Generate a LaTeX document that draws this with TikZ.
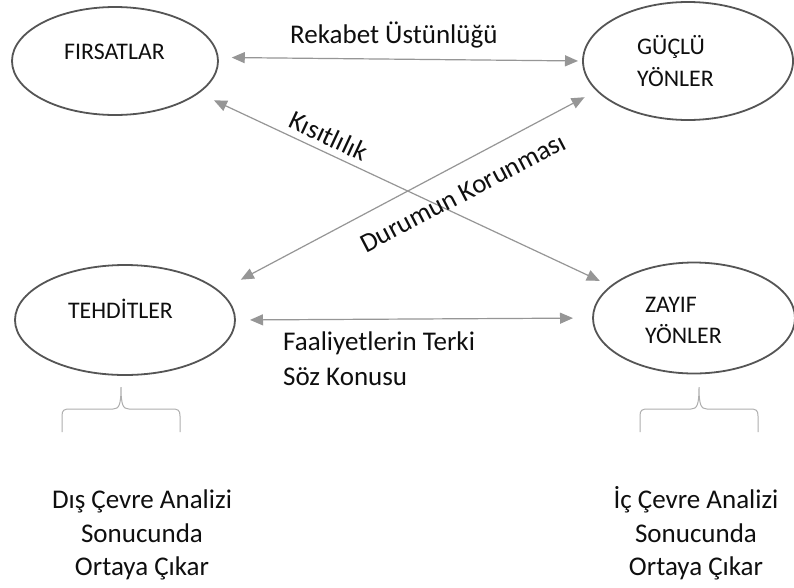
\documentclass[tikz,border=0pt]{standalone}
\usepackage{fontspec}
\setmainfont{Carlito}
\usetikzlibrary{shapes.geometric,arrows.meta}
\definecolor{ellcol}{RGB}{85,85,85}
\definecolor{arrcol}{RGB}{150,150,150}
\definecolor{brcol}{RGB}{175,175,175}
\definecolor{txtcol}{RGB}{15,15,15}
\tikzset{
  oval/.style={ellipse, draw=ellcol, line width=1.8pt, inner sep=0pt, outer sep=0pt},
  ovaltext/.style={inner sep=0pt, text=txtcol, font=\fontsize{23.8}{28}\selectfont},
  lbl/.style={inner sep=0pt, text=txtcol, font=\fontsize{27}{32}\selectfont},
  bottomtext/.style={inner sep=0pt, text=txtcol, anchor=base, font=\fontsize{27}{33}\selectfont},
  conn/.style={draw=arrcol, line width=1.2pt, {Triangle[length=13pt,width=11pt,fill=arrcol]}-{Triangle[length=13pt,width=11pt,fill=arrcol]}},
  bracestyle/.style={draw=brcol, line width=1pt}
}
\begin{document}
\begin{tikzpicture}[x=1pt,y=-1pt]
\useasboundingbox (0,0) rectangle (794,587);
\fill[white] (0,0) rectangle (794,587);
% ellipses
\node[oval, minimum width=206pt, minimum height=108pt] (fir) at (115,61) {};
\node[oval, minimum width=210pt, minimum height=118pt] (guc) at (688,61) {};
\node[oval, minimum width=220pt, minimum height=110pt] (teh) at (125,320) {};
\node[oval, minimum width=202pt, minimum height=111pt] (zay) at (694,318) {};
% ellipse texts
\node[ovaltext, anchor=base] (firT) at (114.5,59) {FIRSATLAR};
\node[ovaltext, anchor=base west] (gucT1) at (637,54.5) {GÜÇLÜ};
\node[ovaltext, anchor=base west] (gucT2) at (637,86.8) {YÖNLER};
\node[ovaltext, anchor=base] (tehT) at (120.5,318.8) {TEHDİTLER};
\node[ovaltext, anchor=base west] (zayT1) at (645,312.8) {ZAYIF};
\node[ovaltext, anchor=base west] (zayT2) at (645,343.8) {YÖNLER};
% connectors
\draw[conn, shorten <=14pt, shorten >=5pt] (fir.2) -- (guc.west);
\draw[conn, shorten <=17.5pt, shorten >=12.6pt] (fir.-21.7) -- (zay.159);
\draw[conn, shorten <=24.9pt, shorten >=14.2pt] (teh.17.5) -- (guc.198);
\draw[conn, shorten <=15pt, shorten >=20pt] (teh.east) -- (zay.west);
% connector labels
\node[lbl, anchor=base west] (rek) at (290,43.5) {Rekabet Üstünlüğü};
\node[lbl, rotate=-25] (kis) at (329,136) {Kısıtlılık};
\node[lbl, rotate=27.5] (dur) at (463,193) {Durumun Korunması};
\node[lbl, anchor=base west] (faa1) at (283,350) {Faaliyetlerin Terki};
\node[lbl, anchor=base west] (faa2) at (283,385) {Söz Konusu};
% braces
\draw[bracestyle] (62,432) -- (62,416) .. controls (62,410) and (64,409) .. (70,409) -- (113,409) .. controls (119,409) and (121,405) .. (121,387) .. controls (121,405) and (123,409) .. (129,409) -- (172,409) .. controls (178,409) and (180,410) .. (180,416) -- (180,432);
\begin{scope}[xshift=578pt]
\draw[bracestyle] (62,432) -- (62,416) .. controls (62,410) and (64,409) .. (70,409) -- (113,409) .. controls (119,409) and (121,405) .. (121,387) .. controls (121,405) and (123,409) .. (129,409) -- (172,409) .. controls (178,409) and (180,410) .. (180,416) -- (180,432);
\end{scope}
% bottom texts
\node[bottomtext] (dis1) at (142,508.5) {Dış Çevre Analizi};
\node[bottomtext] (dis2) at (142,542) {Sonucunda};
\node[bottomtext] (dis3) at (142,575) {Ortaya Çıkar};
\node[bottomtext] (ic1) at (696,508.5) {İç Çevre Analizi};
\node[bottomtext] (ic2) at (696,542) {Sonucunda};
\node[bottomtext] (ic3) at (696,575) {Ortaya Çıkar};
\end{tikzpicture}
\end{document}
